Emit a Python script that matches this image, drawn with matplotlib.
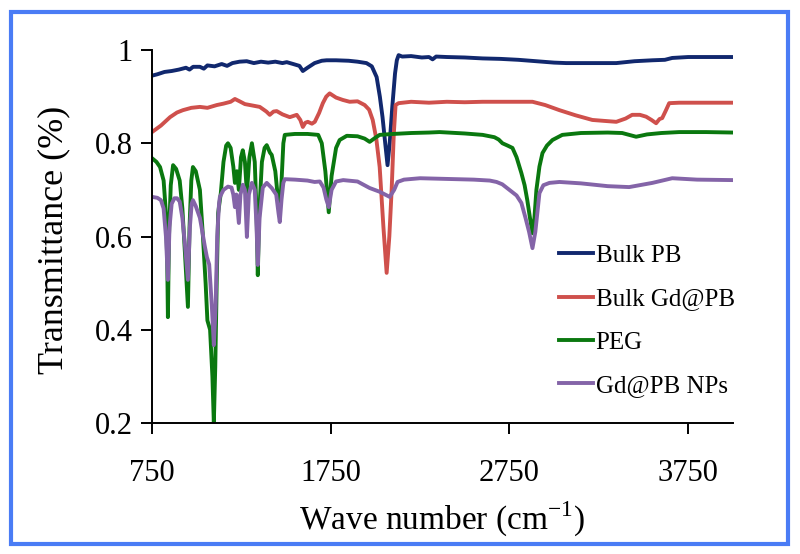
import matplotlib
matplotlib.use("Agg")
import matplotlib.pyplot as plt
from matplotlib.patches import Rectangle
from matplotlib.ticker import FormatStrFormatter

plt.rcParams['font.family'] = ['Liberation Serif', 'DejaVu Serif']
plt.rcParams['mathtext.fontset'] = 'custom'
plt.rcParams['mathtext.rm'] = 'Liberation Serif'

# %% data (wave number, transmittance)
pb_wn = [750, 780, 820, 860, 900, 940, 960, 980, 1018, 1040, 1060, 1100, 1140, 1170,
         1200, 1240, 1280, 1320, 1360, 1400, 1440, 1480, 1504, 1540, 1575, 1594, 1620,
         1660, 1700, 1727, 1780, 1850, 1900, 1950, 1980, 2007, 2025, 2040, 2055, 2068,
         2080, 2095, 2110, 2120, 2130, 2150, 2200, 2260, 2300, 2320, 2340, 2400, 2500,
         2600, 2700, 2800, 2900, 3000, 3068, 3200, 3348, 3450, 3550, 3620, 3661, 3750,
         3850, 3950, 4000]
pb_t = [0.945, 0.948, 0.953, 0.955, 0.958, 0.962, 0.958, 0.964, 0.964, 0.960, 0.967,
        0.965, 0.970, 0.966, 0.972, 0.975, 0.976, 0.972, 0.975, 0.973, 0.975, 0.972,
        0.974, 0.970, 0.966, 0.955, 0.962, 0.972, 0.977, 0.978, 0.978, 0.977, 0.975,
        0.972, 0.965, 0.942, 0.900, 0.856, 0.800, 0.753, 0.800, 0.880, 0.950, 0.978,
        0.989, 0.986, 0.987, 0.984, 0.985, 0.980, 0.986, 0.985, 0.984, 0.982, 0.981,
        0.979, 0.976, 0.973, 0.972, 0.972, 0.972, 0.976, 0.978, 0.979, 0.983, 0.985,
        0.985, 0.985, 0.985]

gdpb_wn = [750, 800, 851, 890, 923, 970, 1018, 1060, 1113, 1150, 1190, 1214, 1240, 1270,
           1298, 1353, 1390, 1409, 1430, 1448, 1480, 1521, 1560, 1580, 1594, 1608, 1622,
           1645, 1661, 1685, 1706, 1725, 1744, 1780, 1817, 1856, 1900, 1940, 1965, 1985,
           2005, 2024, 2045, 2063, 2078, 2091, 2103, 2113, 2130, 2200, 2300, 2400, 2500,
           2600, 2700, 2800, 2879, 2950, 3030, 3120, 3214, 3280, 3348, 3400, 3437, 3480,
           3515, 3545, 3571, 3590, 3605, 3625, 3644, 3700, 3800, 3900, 4000]
gdpb_t = [0.824, 0.838, 0.856, 0.866, 0.871, 0.876, 0.878, 0.876, 0.882, 0.885, 0.889,
          0.895, 0.890, 0.884, 0.882, 0.878, 0.868, 0.861, 0.868, 0.869, 0.862, 0.856,
          0.861, 0.850, 0.835, 0.844, 0.846, 0.842, 0.846, 0.865, 0.886, 0.900, 0.907,
          0.898, 0.893, 0.889, 0.890, 0.882, 0.872, 0.850, 0.810, 0.749, 0.620, 0.522,
          0.600, 0.700, 0.820, 0.882, 0.886, 0.889, 0.887, 0.889, 0.888, 0.889, 0.889,
          0.889, 0.889, 0.882, 0.871, 0.860, 0.850, 0.848, 0.846, 0.853, 0.861, 0.861,
          0.857, 0.850, 0.843, 0.852, 0.854, 0.870, 0.886, 0.887, 0.887, 0.887, 0.887]

peg_wn = [750, 775, 795, 815, 828, 835, 839, 845, 855, 868, 885, 905, 920, 935, 951, 960,
          970, 979, 995, 1018, 1035, 1050, 1060, 1075, 1088, 1096, 1104, 1112, 1120, 1135,
          1150, 1165, 1175, 1190, 1205, 1214, 1225, 1236, 1248, 1258, 1270, 1281, 1295,
          1309, 1325, 1335, 1342, 1350, 1365, 1380, 1392, 1410, 1420, 1440, 1455, 1465,
          1475, 1485, 1493, 1550, 1620, 1680, 1700, 1720, 1739, 1755, 1780, 1800, 1840,
          1900, 1940, 1968, 2000, 2024, 2100, 2200, 2300, 2359, 2500, 2600, 2666, 2690,
          2711, 2740, 2767, 2790, 2817, 2835, 2850, 2865, 2879, 2890, 2901, 2918, 2935,
          2960, 2991, 3046, 3150, 3300, 3381, 3420, 3459, 3520, 3600, 3700, 3850, 4000]
peg_t = [0.768, 0.760, 0.749, 0.720, 0.650, 0.550, 0.427, 0.600, 0.710, 0.753, 0.745,
         0.720, 0.660, 0.560, 0.449, 0.620, 0.720, 0.749, 0.740, 0.700, 0.600, 0.500,
         0.420, 0.400, 0.300, 0.200, 0.320, 0.500, 0.650, 0.693, 0.760, 0.795, 0.800,
         0.790, 0.750, 0.715, 0.740, 0.700, 0.770, 0.785, 0.760, 0.693, 0.770, 0.800,
         0.760, 0.650, 0.517, 0.650, 0.760, 0.790, 0.796, 0.780, 0.775, 0.740, 0.680,
         0.652, 0.720, 0.800, 0.818, 0.820, 0.820, 0.818, 0.800, 0.740, 0.652, 0.730,
         0.790, 0.807, 0.816, 0.815, 0.810, 0.803, 0.812, 0.818, 0.820, 0.822, 0.823,
         0.824, 0.821, 0.818, 0.813, 0.808, 0.800, 0.795, 0.790, 0.770, 0.736, 0.710,
         0.678, 0.640, 0.607, 0.640, 0.700, 0.750, 0.779, 0.795, 0.807, 0.818, 0.822,
         0.823, 0.822, 0.818, 0.814, 0.819, 0.822, 0.824, 0.824, 0.823]

np_wn = [750, 780, 800, 815, 828, 839, 848, 860, 875, 890, 905, 920, 935, 951, 962, 972,
         979, 995, 1018, 1030, 1045, 1057, 1070, 1085, 1096, 1106, 1115, 1125, 1130, 1150,
         1175, 1195, 1205, 1214, 1222, 1236, 1245, 1258, 1270, 1281, 1292, 1309, 1325,
         1335, 1342, 1352, 1370, 1392, 1420, 1445, 1458, 1465, 1475, 1485, 1493, 1550,
         1620, 1660, 1689, 1710, 1725, 1739, 1755, 1780, 1820, 1900, 1968, 2024, 2080,
         2105, 2124, 2160, 2250, 2350, 2450, 2550, 2640, 2678, 2710, 2750, 2790, 2817,
         2840, 2860, 2879, 2895, 2918, 2940, 2974, 3030, 3150, 3300, 3420, 3550, 3661,
         3800, 4000]
np_t = [0.685, 0.683, 0.678, 0.660, 0.600, 0.507, 0.620, 0.670, 0.682, 0.682, 0.675,
        0.640, 0.580, 0.507, 0.620, 0.670, 0.678, 0.665, 0.640, 0.614, 0.580, 0.556,
        0.540, 0.450, 0.367, 0.450, 0.600, 0.670, 0.685, 0.700, 0.707, 0.705, 0.690,
        0.663, 0.690, 0.629, 0.690, 0.711, 0.700, 0.599, 0.690, 0.715, 0.700, 0.620,
        0.539, 0.640, 0.705, 0.715, 0.704, 0.690, 0.650, 0.631, 0.680, 0.715, 0.723,
        0.722, 0.720, 0.717, 0.718, 0.705, 0.680, 0.663, 0.700, 0.718, 0.721, 0.718,
        0.704, 0.696, 0.685, 0.700, 0.717, 0.722, 0.725, 0.724, 0.723, 0.722, 0.720,
        0.717, 0.712, 0.700, 0.688, 0.672, 0.640, 0.610, 0.575, 0.610, 0.693, 0.710,
        0.715, 0.717, 0.714, 0.708, 0.706, 0.715, 0.725, 0.722, 0.721]

labels = ["Bulk PB", "Bulk Gd@PB", "PEG", "Gd@PB NPs"]
colours = ["#11286e", "#cf504c", "#0a780f", "#8464a8"]

# %% plot
fig = plt.figure(figsize=(8, 5.54), dpi=100)
ax = fig.add_axes([0.19, 0.2365, 0.726, 0.6732])

series = [(pb_wn, pb_t), (gdpb_wn, gdpb_t), (peg_wn, peg_t), (np_wn, np_t)]
for (wn, t), lab, col in zip(series, labels, colours):
    ax.plot(wn, t, color=col, lw=2.8, label=lab, solid_joinstyle='round')

ax.set_xlim(750, 4000)
ax.set_ylim(0.2, 1.0)
ax.set_xticks([750, 1750, 2750, 3750])
ax.set_yticks([0.2, 0.4, 0.6, 0.8, 1.0])
ax.yaxis.set_major_formatter(FormatStrFormatter('%g'))

# Make-ups
ax.spines["top"].set_visible(False)
ax.spines["right"].set_visible(False)
ax.spines["left"].set_linewidth(1.4)
ax.spines["bottom"].set_linewidth(1.4)
ax.tick_params(axis="both", which="major", direction="out", length=8, width=1.4,
               labelsize=22, pad=6)
ax.tick_params(axis="x", pad=18)

ax.set_xlabel("Wave number (cm$^{-1}$)", fontsize=24)
ax.set_ylabel("Transmittance (%)", fontsize=26)
ax.xaxis.set_label_coords(0.5, -0.205)
ax.yaxis.set_label_coords(-0.14, 0.49)

leg = ax.legend(loc="upper left", bbox_to_anchor=(0.68, 0.512), frameon=False,
                fontsize=18, handlelength=1.35, handletextpad=0.1,
                labelspacing=0.83, borderpad=0)

fig.patches.append(Rectangle((0.0138, 0.018), 0.971, 0.960, transform=fig.transFigure,
                             fill=False, edgecolor="#4a7cf5", lw=3))

plt.savefig("out.png", dpi=100)
